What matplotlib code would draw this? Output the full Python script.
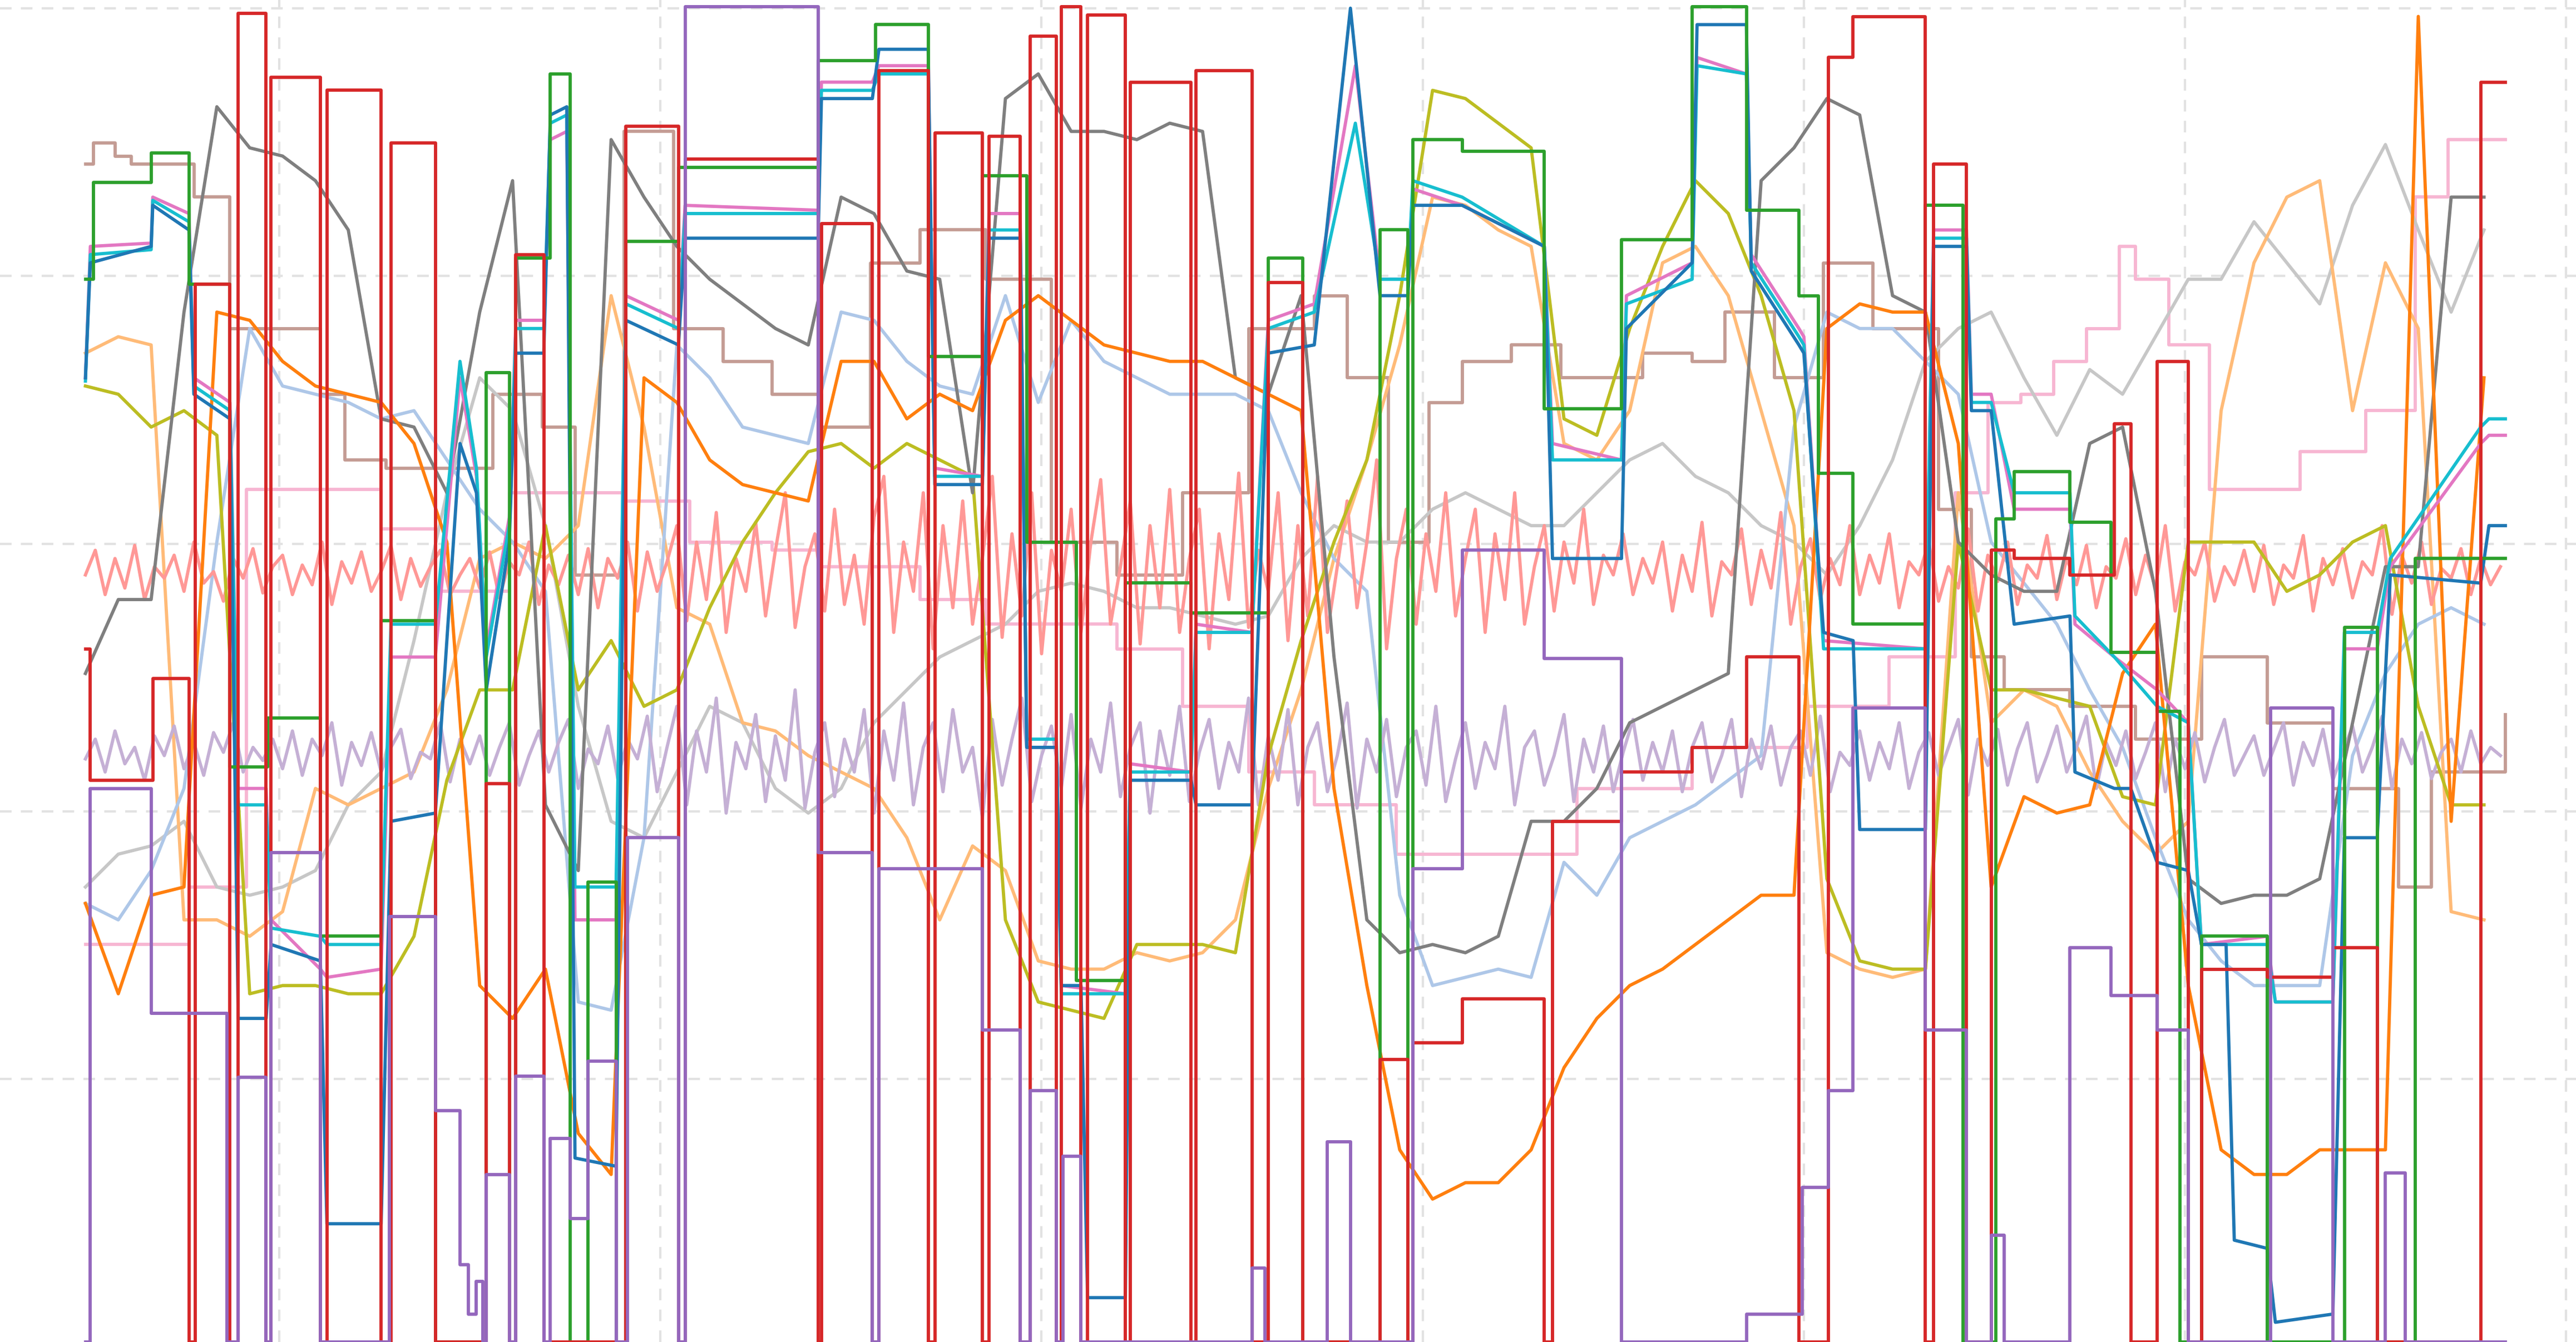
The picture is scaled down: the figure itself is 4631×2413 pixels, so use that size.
import numpy as np
import matplotlib
matplotlib.use("Agg")
import matplotlib.pyplot as plt

# ---- plateau series: knots (x, value) ----
blue_x = [52,55,92,93,115,118,140,145,162,165,195,199,232,238,265,280,290,296,310,314,331,335,345,350,375,381,413,417,498,500,531,535,565,569,598,602,621,625,643,646,658,662,685,688,725,728,762,772,800,822,840,857,860,890,940,945,987,990,1030,1033,1063,1066,1095,1098,1110,1128,1132,1172,1177,1197,1200,1212,1226,1260,1263,1287,1297,1313,1332,1340,1355,1360,1380,1385,1420,1427,1447,1455,1510,1515,1525]
blue_y = [230,160,150,125,140,240,255,620,620,575,585,745,745,500,495,270,300,420,330,215,215,70,65,705,710,195,210,145,145,60,60,30,30,295,295,145,145,455,455,600,600,790,790,475,475,490,490,215,210,5,180,180,125,125,150,340,340,200,160,15,15,165,210,215,385,390,505,505,150,150,250,250,380,375,470,480,480,525,530,575,575,755,760,805,800,510,510,350,355,320,320]
cyan_x = [52,55,92,93,115,118,140,145,162,165,195,199,232,238,265,280,290,296,310,314,331,335,345,350,375,381,413,417,498,500,531,535,565,569,598,602,621,625,643,646,685,688,725,728,762,772,800,825,840,857,860,890,940,945,987,990,1030,1033,1063,1066,1095,1098,1110,1172,1177,1197,1200,1212,1226,1260,1263,1287,1313,1332,1340,1380,1385,1420,1427,1447,1455,1510,1515,1525]
cyan_y = [232,155,152,122,135,235,250,490,490,565,570,575,575,380,380,220,285,400,320,200,200,75,70,540,540,185,200,130,130,55,55,45,45,290,290,140,140,450,450,605,605,470,470,385,385,200,190,75,170,170,110,120,150,280,280,185,170,40,45,160,205,210,395,395,145,145,245,245,300,300,375,400,430,440,575,575,610,610,385,385,340,260,255,255]
pink_x = cyan_x
pink_y = [230,150,148,120,130,230,245,480,480,560,590,595,590,400,400,230,290,395,315,195,195,85,80,560,560,180,195,125,128,50,50,40,40,285,290,130,130,455,455,600,605,465,470,380,385,195,185,40,170,170,115,125,150,270,280,180,160,35,45,155,200,205,390,395,140,140,240,240,310,310,380,400,420,440,575,570,610,610,395,395,345,270,265,265]

# ---- sampled series (x = 52 + 20*i) ----
gray = [410,365,365,190,65,90,95,110,140,255,260,300,190,110,490,530,85,120,150,170,185,200,210,120,130,165,170,300,60,45,80,80,85,75,80,230,240,180,400,560,580,575,580,570,500,500,480,440,430,420,410,110,90,60,70,180,190,330,350,360,360,270,260,360,535,550,545,545,535,440,345,345,120,120]
orange = [550,605,545,540,190,195,220,235,240,245,270,330,600,620,590,690,715,230,245,280,295,300,305,220,220,255,240,250,195,180,195,210,215,220,220,230,240,250,480,600,700,730,720,720,700,650,620,600,590,575,560,545,545,200,185,190,190,270,540,485,495,490,410,380,600,700,715,715,700,700,700,10,500,230]
olive = [235,240,260,250,265,605,600,600,605,605,570,475,420,420,320,420,390,430,420,370,330,300,275,270,285,270,280,290,560,610,615,620,575,575,575,580,460,390,330,280,180,55,60,75,90,255,265,200,150,110,130,180,250,535,585,590,590,330,420,420,425,430,485,490,330,330,330,360,350,330,320,430,490,490]
lblue = [550,560,530,480,330,200,235,240,245,255,250,280,310,330,360,610,615,510,210,230,260,265,270,190,195,220,235,240,180,245,195,220,230,240,240,240,250,300,340,360,545,600,595,590,595,525,545,510,500,490,475,460,260,190,200,200,220,240,330,355,380,420,455,510,560,585,600,600,600,460,410,380,370,380]
lorange = [215,205,210,560,560,570,555,480,490,480,470,420,340,330,340,320,180,260,370,380,440,445,460,470,480,510,560,515,530,585,590,590,580,585,580,560,480,420,340,280,210,120,125,140,150,270,280,250,160,150,180,250,320,580,590,595,590,300,440,420,430,470,500,520,500,250,160,120,110,250,160,200,555,560]
lgray = [540,520,515,500,540,545,540,530,490,470,390,300,230,250,320,430,500,510,470,430,440,480,495,480,440,420,400,390,380,360,355,360,370,370,375,380,375,340,320,330,330,310,300,310,320,320,300,280,270,290,300,320,330,350,320,280,220,200,190,230,265,225,240,205,170,170,135,160,185,125,88,140,190,140]

# ---- dense noisy series (x = 52 + 6*i) ----
salmon = [350,335,362,340,358,332,365,345,352,338,360,330,355,348,366,340,352,334,361,345,
          338,362,344,356,330,368,342,355,336,360,348,332,365,340,357,345,335,362,350,340,
          358,336,364,342,350,330,368,344,356,338,362,334,370,340,352,330,372,336,360,342,
          320,378,330,365,312,385,340,360,318,375,335,300,382,345,325,372,310,368,338,380,
          315,290,385,330,360,300,395,320,370,305,380,340,290,388,325,375,300,398,335,360,
          310,385,330,292,380,345,305,392,320,370,298,385,340,310,395,325,365,288,382,335,
          360,300,390,320,375,290,385,345,305,370,330,280,395,340,310,380,325,360,300,375,
          340,310,385,325,365,300,380,345,320,372,330,355,310,368,338,350,325,362,340,355,
          330,372,338,360,318,375,342,350,322,368,335,358,312,380,345,328,365,340,356,320,
          362,338,355,325,370,342,350,330,366,345,358,322,372,338,354,330,368,344,352,326,
          365,340,356,332,370,345,352,328,362,338,358,320,372,342,350,330,366,345,356,335,
          360,332,368,344,352,326,372,340,356,334,364,342,350,320,374,338,355,330,368,346,
          352,334,362,340,356,345]
lavender = [462,450,470,445,465,455,475,448,460,442,468,452,472,446,458,440,470,455,463,450,
            468,445,472,450,460,440,478,452,466,446,470,455,444,474,458,462,440,476,450,465,
            448,472,455,440,478,460,445,470,452,438,480,456,465,442,474,450,462,436,482,455,
            430,490,445,470,425,495,452,468,435,488,448,475,420,492,458,440,485,450,470,432,
            495,445,475,428,490,455,440,482,432,470,455,498,438,478,450,425,488,460,442,480,
            435,492,450,470,428,485,455,440,495,445,472,430,488,458,438,480,452,470,425,490,
            448,475,432,490,455,440,482,460,428,492,450,470,438,485,455,445,478,430,488,462,
            440,480,452,468,430,490,455,445,478,460,435,488,450,470,442,482,458,438,475,452,
            470,445,482,455,440,476,460,438,485,450,468,442,478,455,445,472,436,482,458,466,
            445,475,452,468,440,480,458,446,472,455,438,484,450,466,444,478,456,440,476,460,
            442,470,455,436,480,452,466,445,474,458,440,482,450,468,446,476,455,438,472,460,
            448,472,456,440,478,452,466,444,475,458,442,470,455,436,480,450,465,446,474,458,
            450,470,445,465,455,460]

# ---- step series: (x_start, value) ----
red_x = [52,55,92,93,115,119,140,145,162,165,195,199,232,238,265,296,310,314,331,381,413,417,498,500,531,535,565,569,598,602,621,627,643,646,658,662,685,688,725,728,762,772,793,840,857,860,890,940,945,987,1030,1063,1095,1113,1128,1172,1177,1197,1212,1226,1260,1287,1297,1313,1332,1340,1380,1420,1447,1510,1525]
red_y = [395,475,475,413,817,173,817,8,817,47,817,55,817,87,817,477,817,155,817,77,817,97,817,136,817,43,817,81,817,83,817,22,817,4,817,9,817,50,817,43,817,172,817,645,817,635,608,817,500,470,455,400,817,35,10,817,100,817,335,340,350,258,817,220,817,590,595,577,817,50,50]
green_x = [52,57,92,115,140,163,195,232,265,296,310,314,335,347,358,375,381,413,498,533,565,598,625,655,685,725,772,793,840,857,860,890,940,987,1030,1063,1095,1107,1128,1172,1195,1215,1226,1260,1285,1313,1327,1340,1380,1427,1447,1470,1510,1525]
green_y = [170,111,93,173,467,437,570,378,817,227,817,157,45,817,537,817,147,102,37,15,217,107,330,597,355,373,157,817,140,817,85,92,249,146,4,128,180,288,380,125,817,316,287,318,397,433,817,570,817,382,817,340,340,340]
purple_x = [52,55,92,115,138,145,162,165,195,237,265,280,285,290,294,296,310,314,331,335,347,358,375,382,413,417,498,531,535,598,621,627,643,647,658,762,770,808,822,860,890,940,987,1063,1097,1113,1128,1172,1197,1212,1220,1260,1285,1313,1332,1382,1420,1452,1464,1525]
purple_y = [817,480,617,617,817,656,817,519,817,558,676,770,800,780,817,715,817,655,817,693,742,646,817,510,817,4,519,817,529,627,817,664,817,704,817,772,817,695,817,529,335,401,817,800,723,664,431,627,817,752,817,577,606,627,817,431,817,714,817,817]
lpink_x = [52,115,150,195,232,265,310,380,420,470,500,560,600,680,720,760,800,850,960,1030,1100,1150,1190,1210,1230,1250,1270,1290,1300,1320,1345,1400,1440,1470,1490,1525]
lpink_y = [575,540,298,298,322,360,300,305,330,335,345,365,380,395,430,470,490,520,480,455,430,400,300,245,240,220,200,150,170,210,298,275,250,120,85,85]
lbrown_x = [52,57,70,80,118,140,170,195,210,235,300,330,350,380,410,440,470,500,530,560,600,640,680,720,760,800,820,845,870,890,920,950,1000,1030,1050,1080,1110,1140,1180,1200,1220,1260,1300,1340,1380,1420,1460,1480,1525]
lbrown_y = [100,87,95,100,120,200,200,240,280,285,240,260,350,80,200,220,240,260,160,140,170,330,350,300,200,180,230,330,245,220,210,230,215,220,190,230,160,200,310,400,420,430,450,400,440,480,540,470,435]

fig = plt.figure(figsize=(4631/300, 2413/300), dpi=300)
ax = fig.add_axes([0, 0, 1, 1])
lw = 1.4

def xs(vals, step):
    return 52 + step * np.arange(len(vals))

ax.step(lpink_x, lpink_y, where="post", color="#f7b6d2", lw=lw)
ax.step(lbrown_x, lbrown_y, where="post", color="#c49c94", lw=lw)
ax.plot(xs(lgray, 20), lgray, color="#c7c7c7", lw=lw)
ax.plot(xs(lorange, 20), lorange, color="#ffbb78", lw=lw)
ax.plot(xs(lblue, 20), lblue, color="#aec7e8", lw=lw)
ax.plot(xs(lavender, 6), lavender, color="#c5b0d5", lw=lw)
ax.plot(xs(salmon, 6), salmon, color="#ff9896", lw=lw)
ax.plot(xs(olive, 20), olive, color="#bcbd22", lw=lw)
ax.plot(xs(gray, 20), gray, color="#7f7f7f", lw=lw)
ax.plot(xs(orange, 20), orange, color="#ff7f0e", lw=lw)
ax.plot(pink_x, pink_y, color="#e377c2", lw=lw)
ax.plot(cyan_x, cyan_y, color="#17becf", lw=lw)
ax.plot(blue_x, blue_y, color="#1f77b4", lw=lw)
ax.step(green_x, green_y, where="post", color="#2ca02c", lw=lw)
ax.step(red_x, red_y, where="post", color="#d62728", lw=lw)
ax.step(purple_x, purple_y, where="post", color="#9467bd", lw=lw)

ax.set_xlim(0, 1568)
ax.set_ylim(817, 0)
ax.set_xticks([170 + 232 * i for i in range(7)])
ax.set_yticks([5, 168, 331, 494, 657])
ax.grid(True, color="#e2e2e2", linestyle=(0, (5, 4)), lw=1.0)
ax.set_axisbelow(True)
ax.tick_params(length=0, labelbottom=False, labelleft=False)
for s in ax.spines.values():
    s.set_visible(False)
fig.savefig("out.png", dpi=300)
